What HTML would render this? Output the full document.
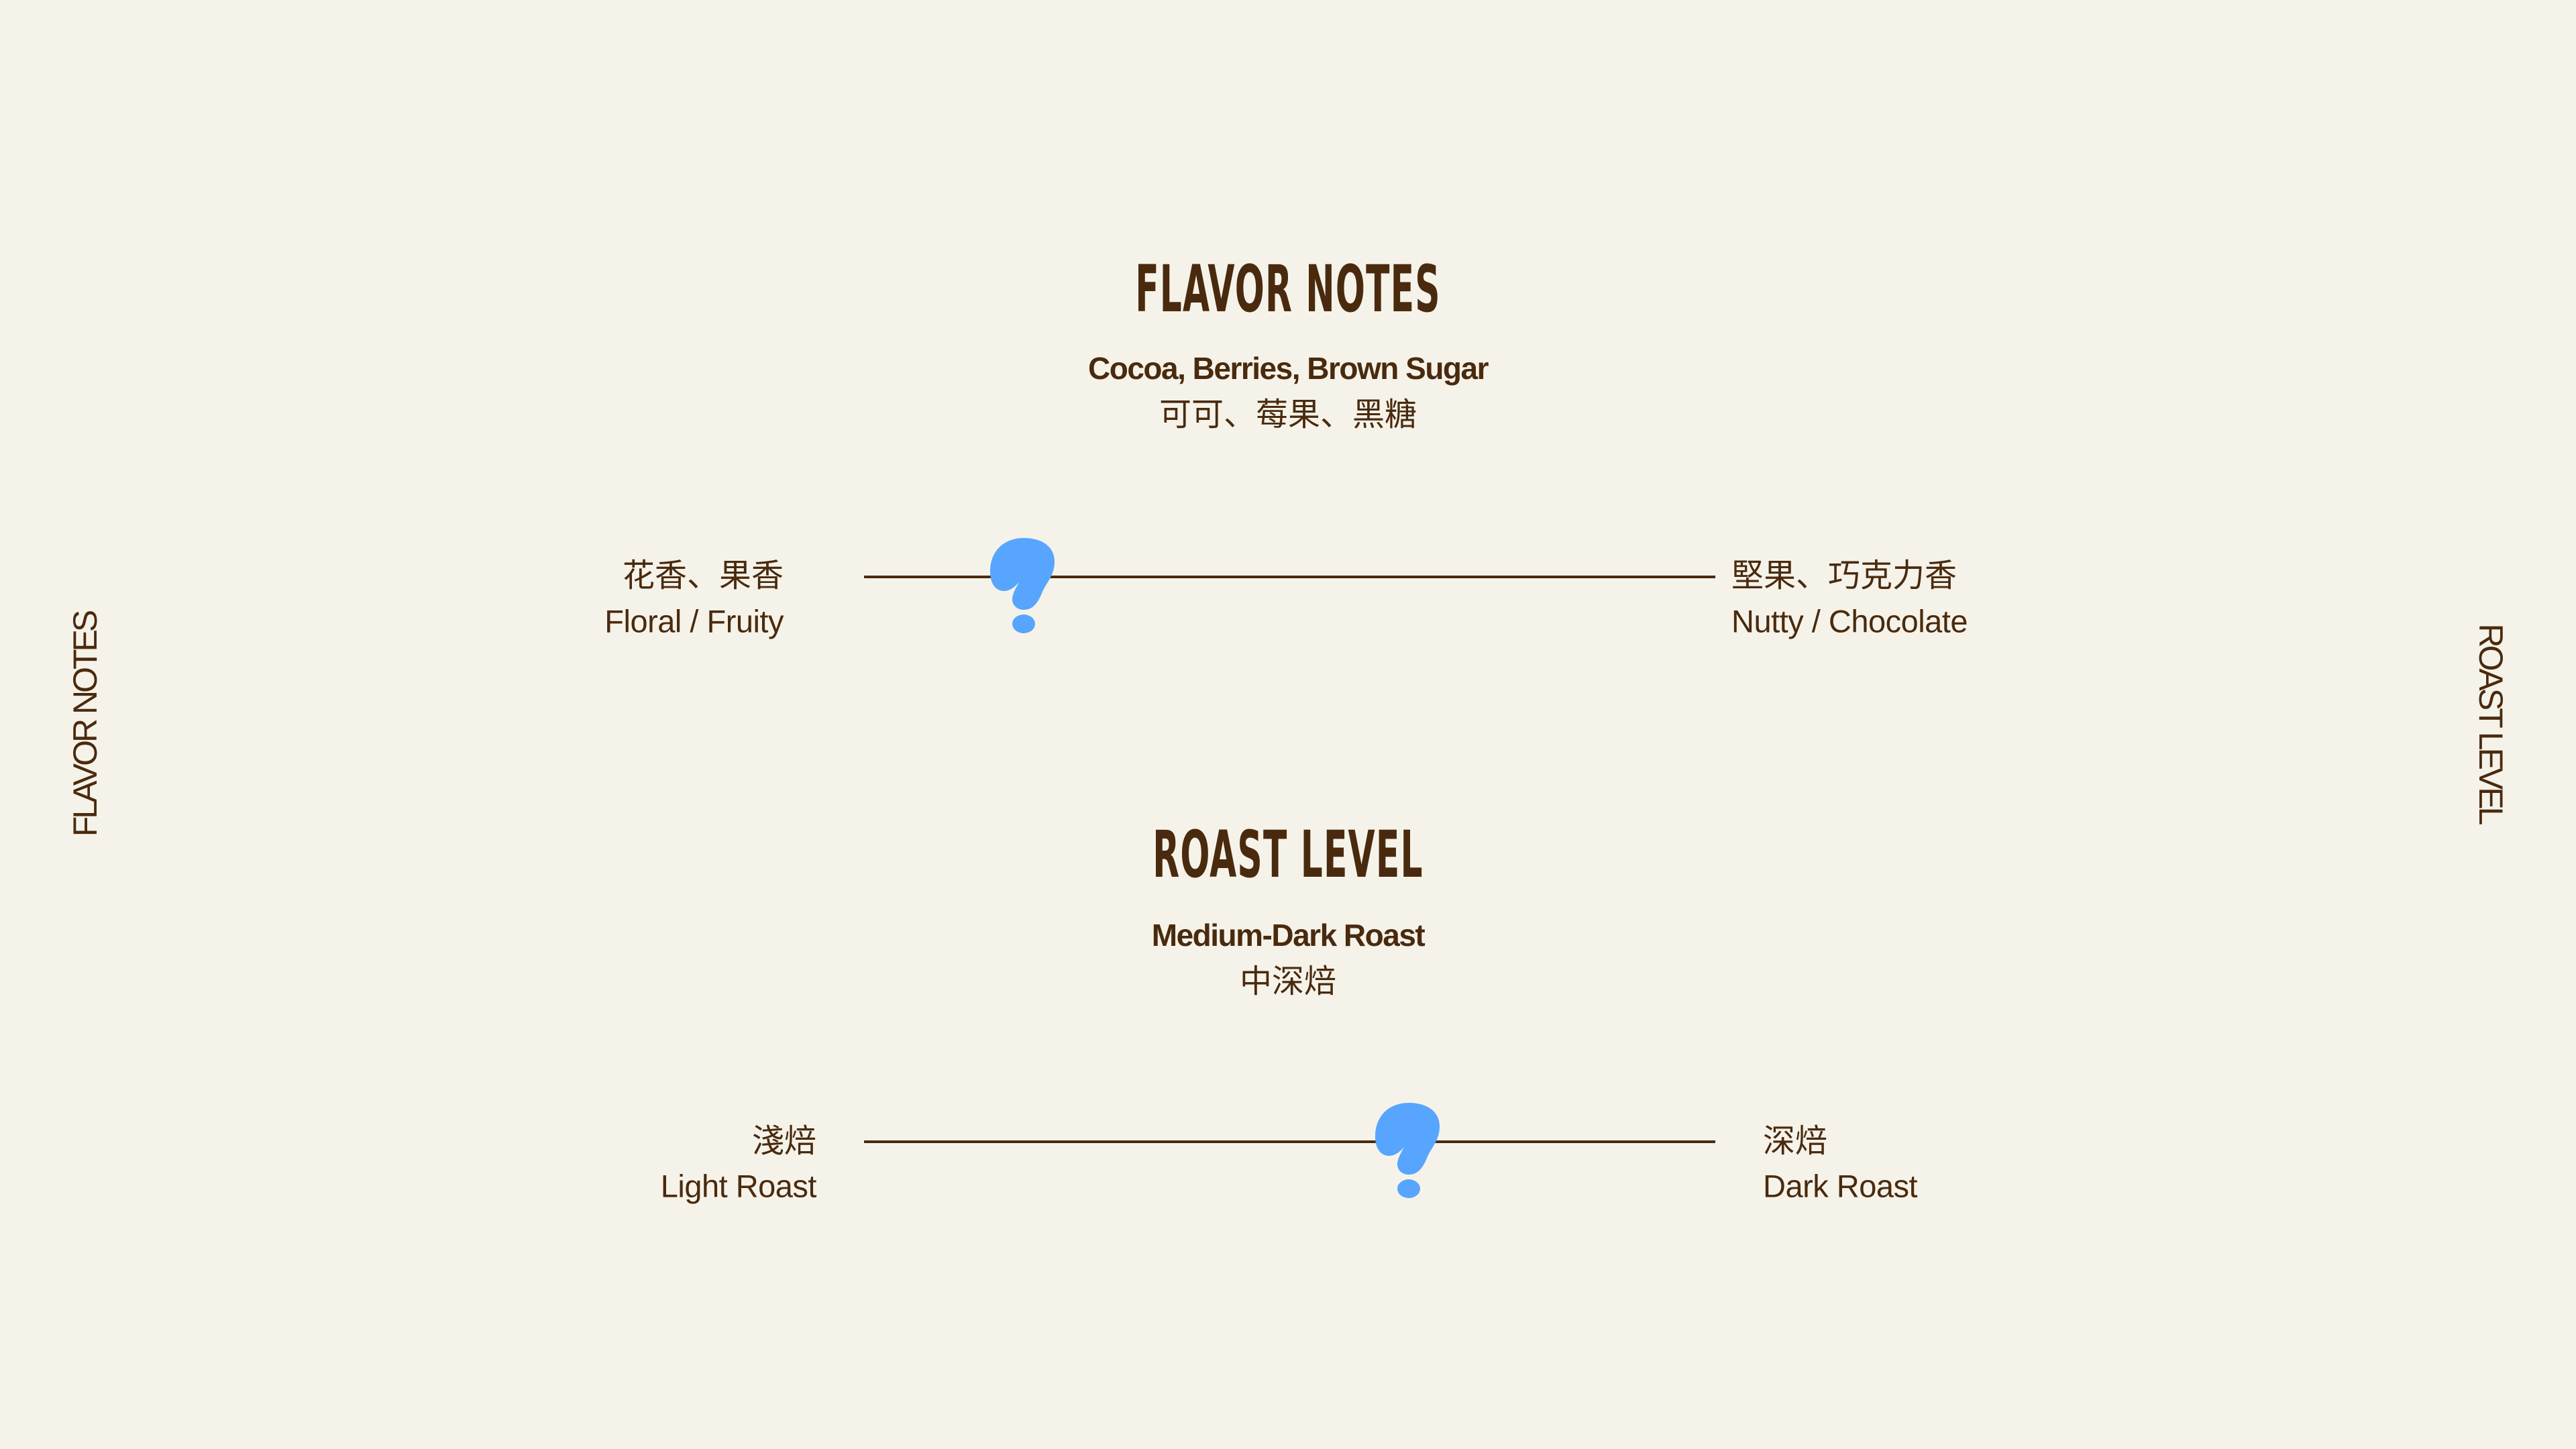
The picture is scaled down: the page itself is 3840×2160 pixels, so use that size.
<!DOCTYPE html>
<html><head><meta charset="utf-8"><style>
html,body{margin:0;padding:0;}
body{width:3840px;height:2160px;background:#f5f3e9;position:relative;overflow:hidden;color:#4a2a0e;font-family:"Liberation Sans","Noto Sans CJK SC",sans-serif;}
.t{position:absolute;white-space:nowrap;line-height:1;transform:translateY(-50%);}
.c{left:0;width:3840px;text-align:center;}
.title{font-family:"DejaVu Sans Condensed","Liberation Sans Narrow","Liberation Sans",sans-serif;font-weight:bold;font-size:96px;transform:translateY(-50%) scaleX(0.6);letter-spacing:2px;}
.sub{font-weight:bold;font-size:46px;letter-spacing:-1.5px;}
.cn{font-size:48px;}
.en{font-size:47px;letter-spacing:-0.5px;}
.r{text-align:right;}
.line{position:absolute;height:4px;background:#4a2a0e;}
.v{position:absolute;font-size:50px;letter-spacing:-4px;white-space:nowrap;line-height:1;}
</style></head><body>

<div class="t c title" style="top:431px;">FLAVOR NOTES</div>
<div class="t c sub" style="top:549px;">Cocoa, Berries, Brown Sugar</div>
<div class="t c cn" style="top:619px;">可可、莓果、黑糖</div>

<div class="t cn r" style="right:2672px;top:859px;">花香、果香</div>
<div class="t en r" style="right:2672px;top:926px;">Floral / Fruity</div>
<div class="t cn" style="left:2581px;top:859px;">堅果、巧克力香</div>
<div class="t en" style="left:2581px;top:926px;">Nutty / Chocolate</div>

<div class="line" style="left:1288px;width:1269px;top:858px;"></div>
<svg style="position:absolute;left:1476px;top:802px" width="96" height="142" viewBox="0 0 96 142">
<path fill="#57a5ff" d="M50 0 C80 0 96 15 96 35 C96 55 85 65 78 80 C72 95 65 107 50 107 C38 107 30 97 34 85 C36 78 40 72 43 66 C35 75 28 79 21 79 C8 79 0 68 0 50 C0 20 20 0 50 0 Z"/>
<ellipse fill="#57a5ff" cx="50" cy="128" rx="17" ry="14"/>
</svg>

<div class="t c title" style="top:1274px;">ROAST LEVEL</div>
<div class="t c sub" style="top:1394px;">Medium-Dark Roast</div>
<div class="t c cn" style="top:1464px;">中深焙</div>

<div class="t cn r" style="right:2623px;top:1702px;">淺焙</div>
<div class="t en r" style="right:2623px;top:1768px;">Light Roast</div>
<div class="t cn" style="left:2628px;top:1702px;">深焙</div>
<div class="t en" style="left:2628px;top:1768px;">Dark Roast</div>

<div class="line" style="left:1288px;width:1269px;top:1700px;"></div>
<svg style="position:absolute;left:2050px;top:1644px" width="96" height="142" viewBox="0 0 96 142">
<path fill="#57a5ff" d="M50 0 C80 0 96 15 96 35 C96 55 85 65 78 80 C72 95 65 107 50 107 C38 107 30 97 34 85 C36 78 40 72 43 66 C35 75 28 79 21 79 C8 79 0 68 0 50 C0 20 20 0 50 0 Z"/>
<ellipse fill="#57a5ff" cx="50" cy="128" rx="17" ry="14"/>
</svg>

<div class="v" style="left:127px;top:1080px;transform:translate(-50%,-50%) rotate(-90deg);">FLAVOR NOTES</div>
<div class="v" style="left:3713px;top:1078px;transform:translate(-50%,-50%) rotate(90deg);">ROAST LEVEL</div>

</body></html>
